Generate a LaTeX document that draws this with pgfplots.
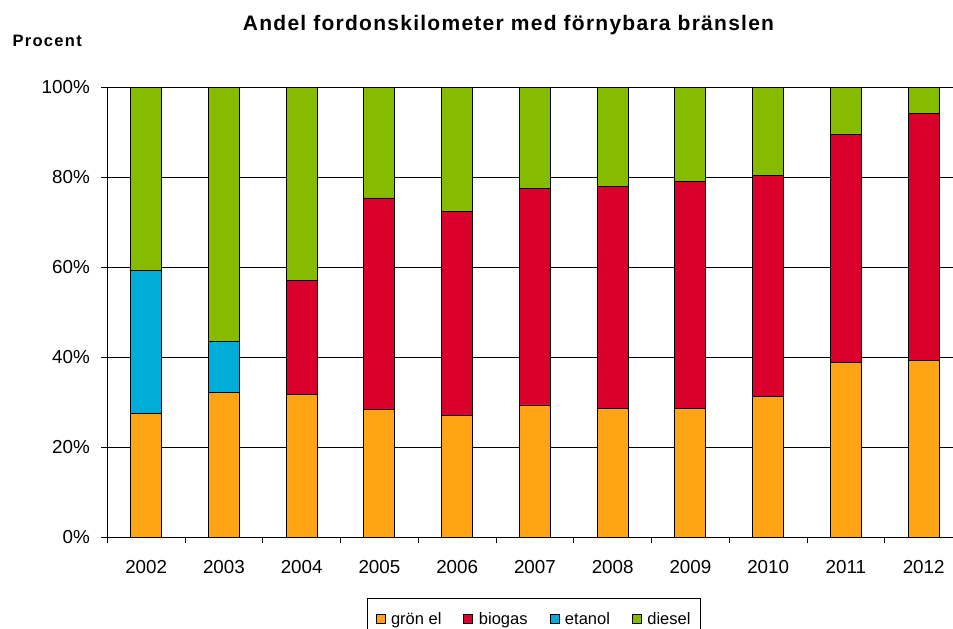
\documentclass[border=0pt]{standalone}
\usepackage{pgfplots}
\pgfplotsset{compat=1.18}
\usepackage{pgfplotstable}
\usepackage{fontspec}
\setmainfont{Liberation Sans}
\newfontfamily\titlefont[LetterSpace=6]{Liberation Sans}
\newfontfamily\procfont[LetterSpace=8]{Liberation Sans}
\definecolor{cgron}{RGB}{255,165,21}
\definecolor{cbio}{RGB}{217,0,43}
\definecolor{ceta}{RGB}{0,173,216}
\definecolor{cdie}{RGB}{134,188,0}
\pgfplotstableread{
x gron bio eta die
0 27.6 0.0 31.6 40.8
1 32.1 0.0 11.4 56.5
2 31.8 25.3 0.0 42.9
3 28.3 47.1 0.0 24.6
4 27.0 45.5 0.0 27.5
5 29.4 48.2 0.0 22.4
6 28.7 49.2 0.0 22.1
7 28.7 50.3 0.0 21.0
8 31.2 49.1 0.0 19.7
9 38.9 50.7 0.0 10.4
10 39.2 54.9 0.0 5.9
}\datatable
\begin{document}
\begin{tikzpicture}[x=1pt,y=1pt]
\useasboundingbox (0,0) rectangle (953,629);
\node[font=\titlefont\fontsize{21}{24}\selectfont\bfseries, anchor=base] at (508.5,598) {Andel fordonskilometer med förnybara bränslen};
\node[font=\procfont\fontsize{16.5}{20}\selectfont\bfseries, anchor=base west] at (9,582) {Procent};
\begin{axis}[
  at={(107.3pt,91.7pt)}, anchor=south west,
  scale only axis, width=845.7pt, height=450pt,
  ybar stacked, bar width=31pt,
  xmin=-0.5, xmax=10.377, ymin=0, ymax=100,
  axis x line*=bottom, axis y line*=left,
  axis line style={black, line width=0.9pt, -},
  xtick={0,...,10},
  xticklabels={2002,2003,2004,2005,2006,2007,2008,2009,2010,2011,2012},
  minor xtick={-0.5,0.5,...,9.5},
  major x tick style={draw=none},
  minor tick length=6pt,
  tick align=outside,
  ytick={0,20,40,60,80,100},
  yticklabels={0\%,20\%,40\%,60\%,80\%,100\%},
  major tick length=6pt,
  tick style={black, line width=0.9pt},
  ymajorgrids, grid style={black, line width=0.9pt},
  ticklabel style={font=\fontsize{18.8}{22}\selectfont},
  xticklabel style={yshift=-14pt},
  yticklabel style={xshift=-8pt},
  every axis plot/.append style={draw=black, line width=0.9pt},
  legend columns=4,
  legend style={at={(0.5046,-0.1349)}, anchor=north, draw=black, line width=0.8pt,
    font=\fontsize{16.5}{20}\selectfont, inner xsep=8pt, inner ysep=12pt,
    /tikz/every even column/.append style={column sep=20pt}},
  legend image code/.code={\draw[#1, draw=black, line width=0.9pt] (0pt,-4.5pt) rectangle (9pt,4.5pt);
    \path[draw=none] (0pt,0pt) -- (13pt,0pt);},
]
\addplot[fill=cgron] table[x=x,y=gron] {\datatable};
\addplot[fill=cbio] table[x=x,y=bio] {\datatable};
\addplot[fill=ceta] table[x=x,y=eta] {\datatable};
\addplot[fill=cdie] table[x=x,y=die] {\datatable};
\legend{grön el,biogas,etanol,diesel}
\end{axis}
\end{tikzpicture}
\end{document}
